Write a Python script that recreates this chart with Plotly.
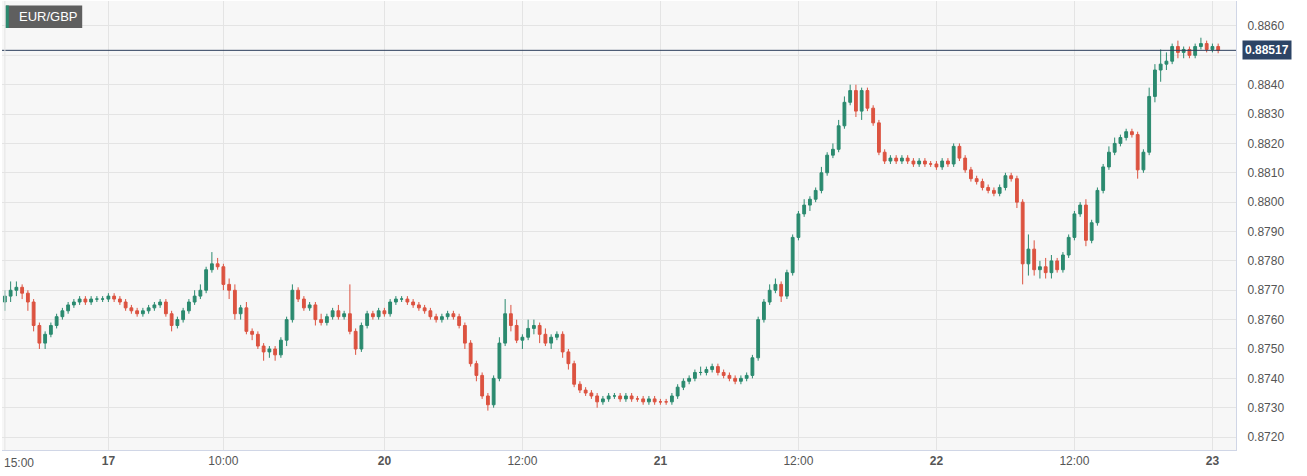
import plotly.graph_objects as go

# closes in pips above 0.8700 (30-min candles from 16th 15:00)
close_pips = [68,70,71,69,66,58,52,55,58,61,63,65,66,67,66,67,67,67,68,67,
              66,64,63,62,63,64,65,66,62,58,60,63,66,68,70,77,79,78,72,70,
              62,64,56,55,51,49,50,48,53,60,70,67,64,65,60,59,61,63,61,62,
              56,50,58,62,61,63,62,66,67,67,66,65,64,63,61,60,61,62,61,58,
              52,45,41,34,31,40,52,62,58,53,54,57,58,55,52,54,55,49,45,38,
              36,35,34,32,33,34,34,33,34,33,33,32,33,32,32,32,34,37,39,40,
              42,42,43,44,42,41,40,39,40,41,47,60,66,70,72,68,76,88,96,99,
              101,104,110,116,118,126,134,138,131,138,132,127,117,114,115,114,115,114,113,114,
              113,113,112,114,113,119,115,111,108,107,105,104,103,105,109,108,100,79,84,77,
              78,76,80,77,82,88,96,99,87,93,104,112,117,120,122,124,123,111,117,136,
              145,147,148,153,151,152,150,153,154,152,153,151.7]
first_open = 66
high_wick = [2,3,2,1,1,1,1,1,1,1,1,1,1,1,1,1,1,1,1,1,
             1,1,1,1,1,1,1,1,1,1,1,1,1,2,2,1,4,2,1,2,
             2,1,2,1,1,1,1,1,1,1,2,1,1,1,1,2,1,1,2,1,
             10,1,1,1,1,1,1,1,1,1,1,1,1,1,1,1,1,1,1,1,
             1,1,1,1,1,1,2,5,3,2,1,3,2,1,2,1,1,1,1,1,
             1,1,1,1,1,1,1,1,1,1,1,1,1,1,1,1,1,1,1,1,
             1,2,1,1,1,1,1,1,1,1,1,1,1,2,2,1,1,1,1,2,
             1,1,2,1,2,2,2,2,2,1,1,1,1,1,1,1,1,1,1,1,
             1,1,1,1,1,1,1,1,1,1,1,1,1,1,1,1,1,1,5,3,
             2,3,2,1,1,1,1,1,2,1,1,1,2,2,1,1,1,1,1,3,
             2,5,3,1,2,1,1,1,2,1,1,1]
low_wick = [3,2,2,2,3,2,2,2,1,1,1,1,1,1,1,1,1,1,1,1,
            1,1,1,1,1,1,1,1,1,2,1,1,1,1,1,1,1,1,2,3,
            2,2,1,2,1,3,2,2,1,2,1,1,1,1,2,1,1,1,1,1,
            1,2,1,1,1,1,1,1,1,1,1,1,1,1,1,1,1,1,1,1,
            2,1,2,1,2,1,1,1,2,1,3,1,2,3,1,2,1,2,2,1,
            1,1,1,2,1,1,1,1,1,1,1,1,1,1,1,1,1,1,1,1,
            1,1,1,1,1,1,1,1,1,1,1,1,1,1,1,2,1,1,1,1,
            2,1,1,1,1,1,1,1,2,3,1,1,1,1,1,1,1,1,1,1,
            1,1,1,1,1,1,1,1,1,1,1,1,1,1,1,1,2,7,4,2,
            3,2,2,1,1,1,1,1,2,1,1,1,1,1,1,1,1,3,1,1,
            2,4,2,1,2,2,1,1,1,1,1,1]
tick_pos = [0, 18, 38, 66, 90, 114, 138, 162, 186, 210]
tick_text = ["15:00", "<b>17</b>", "10:00", "<b>20</b>", "12:00", "<b>21</b>",
             "12:00", "<b>22</b>", "12:00", "<b>23</b>"]
y_ticks = [0.8720, 0.8730, 0.8740, 0.8750, 0.8760, 0.8770, 0.8780, 0.8790,
           0.8800, 0.8810, 0.8820, 0.8830, 0.8840, 0.8860]
last_price = 0.88517
symbol = "EUR/GBP"

base = 0.87
c = [base + p / 10000 for p in close_pips]
o = [base + first_open / 10000] + c[:-1]
h = [max(oo, cc) + w / 10000 for oo, cc, w in zip(o, c, high_wick)]
l = [min(oo, cc) - w / 10000 for oo, cc, w in zip(o, c, low_wick)]
x = list(range(len(c)))

green = "#2b8a6f"
red = "#dc5340"
fig = go.Figure(go.Candlestick(
    x=x, open=o, high=h, low=l, close=c,
    increasing=dict(line=dict(color=green, width=1), fillcolor=green),
    decreasing=dict(line=dict(color=red, width=1), fillcolor=red),
    whiskerwidth=0, showlegend=False, hoverinfo="skip"))

fig.add_hline(y=last_price, line=dict(color="#2c3e5c", width=1))
fig.add_annotation(xref="paper", x=1.0, xanchor="left", xshift=6, y=last_price,
                   text="<b>%.5f</b>" % last_price, showarrow=False,
                   bgcolor="#2c4466", font=dict(color="white", size=12, family="Arial"),
                   borderpad=2)
fig.add_shape(type="rect", xref="paper", yref="paper", x0=0.003, x1=0.065, y0=0.94, y1=0.99,
              fillcolor="#5f5f5f", line=dict(width=0))
fig.add_shape(type="rect", xref="paper", yref="paper", x0=0.003, x1=0.0055, y0=0.94, y1=0.99,
              fillcolor=green, line=dict(width=0))
fig.add_annotation(xref="paper", yref="paper", x=0.012, y=0.965, xanchor="left", yanchor="middle",
                   text=symbol, showarrow=False, font=dict(color="white", size=13, family="Arial"))
fig.add_annotation(xref="paper", yref="paper", x=0, y=0, yshift=-4, xanchor="left", yanchor="top",
                   text=tick_text[0], showarrow=False, font=dict(color="#555", size=12))

fig.update_layout(
    width=1307, height=476, margin=dict(l=2, r=71, t=1, b=26),
    paper_bgcolor="white", plot_bgcolor="#f7f7f7",
    font=dict(family="Arial, Liberation Sans", color="#555", size=12),
    xaxis=dict(range=[-0.5, 214.1], tickvals=tick_pos[1:], ticktext=tick_text[1:],
               showgrid=True, gridcolor="#e4e4e4", rangeslider=dict(visible=False),
               showline=True, linecolor="#d0d6e6", ticks="", zeroline=False),
    yaxis=dict(range=[0.87156, 0.88685], side="right", tickvals=y_ticks,
               tickformat=".4f", showgrid=True, gridcolor="#e4e4e4",
               showline=True, linecolor="#d0d6e6", ticks="", zeroline=False,
               ticklabelstandoff=8),
)
fig.add_hline(y=0.8850, line=dict(color="#e4e4e4", width=1), layer="below")
fig.add_vline(x=0, line=dict(color="#e4e4e4", width=1))
fig.write_html("out.html", config={"displayModeBar": False},
               post_script="document.body.style.margin='0';")
